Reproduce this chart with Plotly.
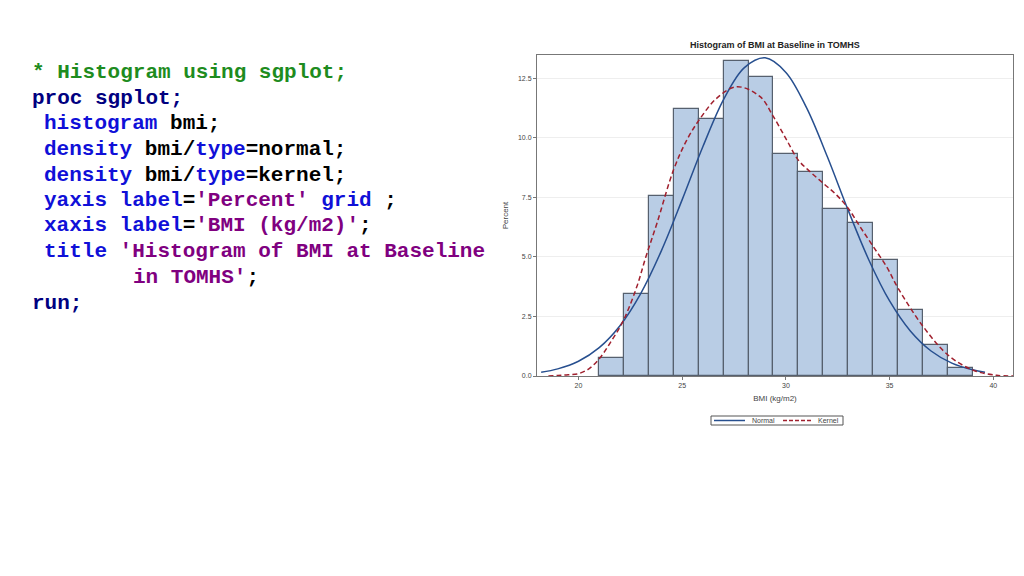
import plotly.graph_objects as go

# ---- data ----
bin_centers = [21.6, 22.8, 24.0, 25.2, 26.4, 27.6, 28.8, 30.0, 31.2, 32.4, 33.6, 34.8, 36.0, 37.2, 38.4]
bin_percent = [0.77, 3.43, 7.55, 11.19, 10.77, 13.21, 12.54, 9.30, 8.55, 6.99, 6.43, 4.86, 2.76, 1.32, 0.32]
bin_width = 1.2

normal_x = [18.2, 19, 20, 21, 22, 23, 24, 25, 26, 27, 28, 29, 30, 31, 32, 33, 34, 35, 36, 37, 38, 39, 39.6]
normal_y = [0.16, 0.30, 0.62, 1.19, 2.11, 3.46, 5.26, 7.40, 9.63, 11.61, 12.94, 13.35, 12.74, 11.25, 9.20,
            6.96, 4.87, 3.15, 1.89, 1.05, 0.54, 0.26, 0.16]

kernel_x = [18.55, 19.0, 19.5, 20.0, 20.5, 21.0, 21.5, 22.17, 22.81, 23.25, 23.78, 24.58, 25.22, 25.87,
            26.67, 27.63, 28.76, 29.40, 30.04, 30.60, 31.17, 31.81, 32.45, 33.01, 33.58, 34.22, 34.86,
            35.42, 36.63, 37.83, 39.04, 40.16, 40.95]
kernel_y = [0.0, 0.02, 0.05, 0.10, 0.30, 0.72, 1.35, 2.34, 3.74, 5.0, 6.4, 8.64, 9.9, 10.81,
            11.66, 12.14, 11.72, 10.88, 9.90, 9.06, 8.57, 8.08, 7.59, 7.03, 6.26, 5.42, 4.58,
            3.67, 2.06, 0.87, 0.24, 0.03, 0.0]

y_ticks = [0.0, 2.5, 5.0, 7.5, 10.0, 12.5]
x_ticks = [20, 25, 30, 35, 40]

title_text = "Histogram of BMI at Baseline in TOMHS"
x_label = "BMI (kg/m2)"
y_label = "Percent"
legend_names = ["Normal", "Kernel"]

# ---- code listing (segments: text, colour) ----
GREEN = "#1e8c1e"
NAVY = "#000080"
BLUE = "#1010d8"
BLACK = "#000000"
PURPLE = "#800080"
code_lines = [
    (0, [("* Histogram using sgplot;", GREEN)]),
    (0, [("proc sgplot;", NAVY)]),
    (1, [("histogram", BLUE), (" bmi;", BLACK)]),
    (1, [("density", BLUE), (" bmi/", BLACK), ("type", BLUE), ("=normal;", BLACK)]),
    (1, [("density", BLUE), (" bmi/", BLACK), ("type", BLUE), ("=kernel;", BLACK)]),
    (1, [("yaxis label", BLUE), ("=", BLACK), ("'Percent'", PURPLE), (" grid", BLUE), (" ;", BLACK)]),
    (1, [("xaxis label", BLUE), ("=", BLACK), ("'BMI (kg/m2)'", PURPLE), (";", BLACK)]),
    (1, [("title", BLUE), (" 'Histogram of BMI at Baseline", PURPLE)]),
    (8, [("in TOMHS'", PURPLE), (";", BLACK)]),
    (0, [("run;", NAVY)]),
]
code_line_y = [72, 98, 123, 149, 175, 200, 226, 251, 277, 303]

NORMAL_COLOR = "#274f8f"
KERNEL_COLOR = "#a0202e"
KERNEL_DASH = "5px,3px"

fig = go.Figure()
fig.add_trace(go.Bar(
    x=bin_centers, y=bin_percent, width=bin_width,
    marker=dict(color="#b9cde5", line=dict(color="#56606e", width=1.2)),
    showlegend=False, hoverinfo="x+y",
))
fig.add_trace(go.Scatter(
    x=normal_x, y=normal_y, mode="lines", name=legend_names[0], showlegend=False,
    line=dict(color=NORMAL_COLOR, width=1.5, shape="spline"),
))
fig.add_trace(go.Scatter(
    x=kernel_x, y=kernel_y, mode="lines", name=legend_names[1], showlegend=False,
    line=dict(color=KERNEL_COLOR, width=1.5, dash=KERNEL_DASH, shape="spline"),
))

OFF = 8  # page body margin
L, R, T, B = 537 - OFF, 1013 - OFF, 55 - OFF, 376 - OFF
W, H = 1024 - OFF, 576 - OFF

def px(xp):
    return (xp - OFF - L) / (R - L)

def py(yp):
    return (B - (yp - OFF)) / (B - T)

annotations = []
shapes = []
char_w = 12.7
for (indent, segs), yline in zip(code_lines, code_line_y):
    txt = "".join(
        '<span style="color:%s">%s</span>' % (c, s.replace(" ", "&nbsp;")) for s, c in segs
    )
    annotations.append(dict(
        text="<b>" + txt + "</b>", xref="paper", yref="paper",
        x=px(29.5 + indent * char_w), y=py(yline), xanchor="left", yanchor="middle",
        showarrow=False, font=dict(family="Liberation Mono", size=21, color=BLACK),
    ))

annotations.append(dict(
    text="<b>" + title_text + "</b>", xref="paper", yref="paper",
    x=0.5, y=py(45), xanchor="center", yanchor="middle", showarrow=False,
    font=dict(family="Liberation Sans", size=9, color="#222222"),
))

# legend (drawn as a compact SAS-style box)
shapes.append(dict(type="rect", xref="paper", yref="paper",
                   x0=px(711), x1=px(843), y0=py(416), y1=py(425),
                   line=dict(color="#555555", width=1), fillcolor="white"))
shapes.append(dict(type="line", xref="paper", yref="paper",
                   x0=px(714), x1=px(745), y0=py(420.5), y1=py(420.5),
                   line=dict(color=NORMAL_COLOR, width=1.5)))
shapes.append(dict(type="line", xref="paper", yref="paper",
                   x0=px(783), x1=px(812), y0=py(420.5), y1=py(420.5),
                   line=dict(color=KERNEL_COLOR, width=1.5, dash="4px,2px")))
annotations.append(dict(text=legend_names[0], xref="paper", yref="paper", x=px(750), y=py(420.5),
                        xanchor="left", yanchor="middle", showarrow=False,
                        font=dict(size=7, color="#444444")))
annotations.append(dict(text=legend_names[1], xref="paper", yref="paper", x=px(816), y=py(420.5),
                        xanchor="left", yanchor="middle", showarrow=False,
                        font=dict(size=7, color="#444444")))

fig.update_layout(
    width=W, height=H,
    margin=dict(l=L, r=W - R, t=T, b=H - B),
    paper_bgcolor="white", plot_bgcolor="white",
    bargap=0,
    annotations=annotations,
    shapes=shapes,
    showlegend=False,
    font=dict(family="Liberation Sans", size=7, color="#444444"),
    xaxis=dict(
        range=[18.0, 40.95], tickvals=x_ticks, ticktext=[str(v) for v in x_ticks],
        showgrid=False, zeroline=False, showline=True, linecolor="#777777", linewidth=1,
        mirror=True, ticks="outside", ticklen=3, tickcolor="#777777",
        tickfont=dict(size=7, color="#444444"),
        title=dict(text=x_label, font=dict(size=8, color="#444444"), standoff=6),
    ),
    yaxis=dict(
        range=[0, 13.47], tickvals=y_ticks, ticktext=["%.1f" % v for v in y_ticks],
        showgrid=True, gridcolor="#eeeeee", zeroline=False, showline=True, linecolor="#777777",
        linewidth=1, mirror=True, ticks="outside", ticklen=3, tickcolor="#777777",
        tickfont=dict(size=7, color="#444444"),
        title=dict(text=y_label, font=dict(size=8, color="#444444"), standoff=8),
    ),
)

fig.write_html("out.html")
